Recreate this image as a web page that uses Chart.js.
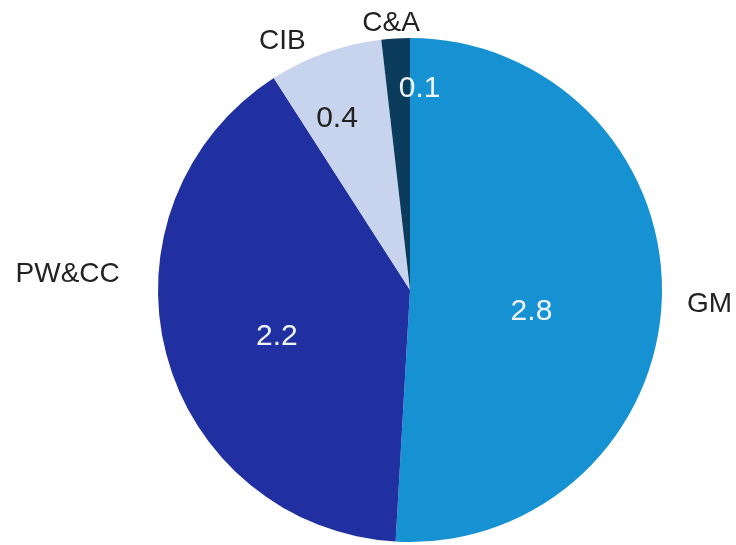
<!DOCTYPE html>
<html>
<head>
<meta charset="utf-8">
<script src="https://cdn.jsdelivr.net/npm/chart.js@4/dist/chart.umd.min.js"></script>
<style>
  html, body { margin: 0; padding: 0; background: #ffffff; }
  #wrap { width: 736px; height: 545px; position: relative; }
</style>
</head>
<body>
<div id="wrap"><canvas id="c" width="736" height="545"></canvas></div>
<script>
// ---- data ----
const categories = ["GM", "PW&CC", "CIB", "C&A"];
const values = [2.8, 2.2, 0.4, 0.1];
const valueLabels = ["2.8", "2.2", "0.4", "0.1"];

// ---- styles ----
const sliceColors = ["#1692d2", "#2130a0", "#c8d4ee", "#0c3c5c"];
const valueTextColors = ["#eef4fa", "#eef4fa", "#222222", "#eef4fa"];
// label placement relative to slice geometry: [radius fraction, angle offset deg]
const innerPlace = [[0.49, 8.7], [0.56, -4.7], [0.74, -3.4], [0.80, 6]];
const outerPlace = [[1.19, 1.0], [1.36, 17.4], [1.11, -7.5], [1.06, -0.8]];

const labelPlugin = {
  id: 'sliceLabels',
  afterDatasetsDraw(chart) {
    const ctx = chart.ctx;
    const meta = chart.getDatasetMeta(0);
    ctx.save();
    ctx.textAlign = 'center';
    ctx.textBaseline = 'middle';
    meta.data.forEach((arc, i) => {
      const p = arc.getProps(['x', 'y', 'startAngle', 'endAngle', 'outerRadius'], true);
      const mid = (p.startAngle + p.endAngle) / 2;
      const r = p.outerRadius;
      // inner value label
      let a = mid + innerPlace[i][1] * Math.PI / 180;
      let d = r * innerPlace[i][0];
      ctx.font = '30px "Liberation Sans", Arial, sans-serif';
      ctx.fillStyle = valueTextColors[i];
      ctx.fillText(valueLabels[i], p.x + Math.cos(a) * d, p.y + Math.sin(a) * d);
      // outer category label
      a = mid + outerPlace[i][1] * Math.PI / 180;
      d = r * outerPlace[i][0];
      ctx.font = '28px "Liberation Sans", Arial, sans-serif';
      ctx.fillStyle = '#222222';
      ctx.fillText(categories[i], p.x + Math.cos(a) * d, p.y + Math.sin(a) * d);
    });
    ctx.restore();
  }
};

new Chart(document.getElementById('c'), {
  type: 'pie',
  data: {
    labels: categories,
    datasets: [{
      data: values,
      backgroundColor: sliceColors,
      borderWidth: 0
    }]
  },
  options: {
    responsive: false,
    animation: false,
    layout: { padding: { left: 158, right: 74, top: 37, bottom: 2 } },
    plugins: {
      legend: { display: false },
      tooltip: { enabled: false }
    }
  },
  plugins: [labelPlugin]
});
</script>
</body>
</html>
